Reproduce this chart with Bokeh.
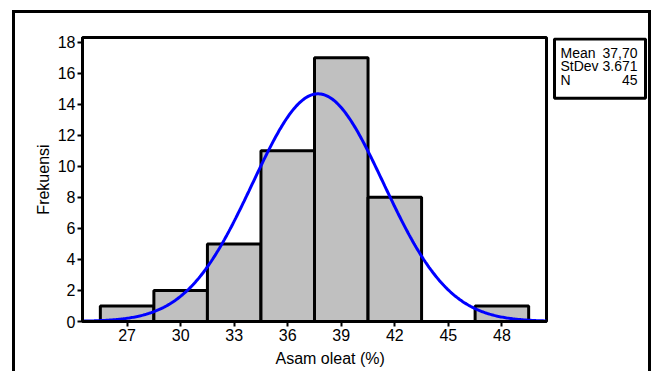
import numpy as np
from bokeh.plotting import figure
from bokeh.layouts import row
from bokeh.models import Range1d, FixedTicker, Title
from bokeh.core.properties import value
from bokeh.embed import file_html
from bokeh.resources import INLINE

# ---- data ----
bin_centers = [27, 30, 33, 36, 39, 42, 45, 48]
frequencies = [1, 2, 5, 11, 17, 8, 0, 1]
bin_width = 3
mean_val = 37.70
stdev_val = 3.671
n_val = 45
x_ticks = [27, 30, 33, 36, 39, 42, 45, 48]
y_ticks = [0, 2, 4, 6, 8, 10, 12, 14, 16, 18]
stat_names = ["Mean", "StDev", "N"]
stat_values = ["37,70", "3.671", "45"]
x_title = "Asam oleat  (%)"
y_title = "Frekuensi"

FONT = "Liberation Sans"

# ---- geometry (page pixels) ----
H = 371
W_MAIN = 550
W_STATS = 104
FRAME_L, FRAME_R, FRAME_T, FRAME_B = 82, 546, 37, 322
X0, X1 = 24.5, 50.5
Y0, Y1 = 0.0, 18.3

p = figure(width=W_MAIN, height=H, output_backend="svg", toolbar_location=None,
           x_range=Range1d(X0, X1), y_range=Range1d(Y0, Y1),
           min_border_left=FRAME_L, min_border_right=W_MAIN - FRAME_R,
           min_border_top=FRAME_T, min_border_bottom=H - FRAME_B)
p.background_fill_color = "white"
p.border_fill_color = None
p.outline_line_color = "black"
p.outline_line_width = 3
p.xgrid.visible = False
p.ygrid.visible = False

# bars
centers = np.array(bin_centers, dtype=float)
p.quad(left=centers - bin_width / 2, right=centers + bin_width / 2,
       bottom=0, top=frequencies, fill_color="#c0c0c0",
       line_color="black", line_width=3)

# fitted normal curve
xs = np.linspace(X0, X1, 400)
ys = n_val * bin_width / (stdev_val * np.sqrt(2 * np.pi)) * np.exp(-0.5 * ((xs - mean_val) / stdev_val) ** 2)
p.line(xs, ys, line_color="#0000ff", line_width=3)

# axes
for ax in (p.xaxis[0], p.yaxis[0]):
    ax.axis_line_color = "black"
    ax.axis_line_width = 3
    ax.major_tick_line_color = "black"
    ax.major_tick_line_width = 2
    ax.major_tick_in = 0
    ax.major_tick_out = 5
    ax.minor_tick_line_color = None
    ax.major_label_text_font = FONT
    ax.major_label_text_font_size = "16px"
    ax.major_label_text_color = "black"
    ax.major_label_standoff = 2

p.xaxis.ticker = FixedTicker(ticks=x_ticks)
p.yaxis.ticker = FixedTicker(ticks=y_ticks)
p.yaxis.axis_label = y_title
p.yaxis.axis_label_text_font = FONT
p.yaxis.axis_label_text_font_size = "16px"
p.yaxis.axis_label_text_font_style = "normal"
p.yaxis.axis_label_text_color = "black"
p.yaxis.axis_label_standoff = 3

p.add_layout(Title(text=x_title, align="left", offset=193, text_font=FONT,
                   text_font_size="16px", text_font_style="normal",
                   text_color="black", standoff=9), "below")

# ---- stats box: a small companion figure whose frame is in page pixels ----
S_L, S_R = W_MAIN + 1, W_MAIN + W_STATS - 1
s = figure(width=W_STATS, height=H, output_backend="svg", toolbar_location=None,
           x_range=Range1d(S_L, S_R), y_range=Range1d(FRAME_B, FRAME_T),
           x_axis_type=None, y_axis_type=None,
           min_border_left=1, min_border_right=1,
           min_border_top=FRAME_T, min_border_bottom=H - FRAME_B)
s.background_fill_color = None
s.border_fill_color = None
s.outline_line_color = None
s.xgrid.visible = False
s.ygrid.visible = False

s.quad(left=[554], right=[645], top=[38.5], bottom=[98], fill_color="white",
       line_color="black", line_width=3)
row_y = [52.5, 66, 79.5]
s.text(x=[560] * 3, y=row_y, text=stat_names, text_font=value(FONT),
       text_font_size=value("14px"), text_align=value("left"),
       text_baseline=value("middle"), text_color=value("black"))
s.text(x=[637] * 3, y=row_y, text=stat_values, text_font=value(FONT),
       text_font_size=value("14px"), text_align=value("right"),
       text_baseline=value("middle"), text_color=value("black"))

# outer frame drawn as CSS background lines behind the transparent borders
bar = "linear-gradient(#000,#000)"
outer = (f"{bar} 12px 10px / 3px 600px no-repeat, "
         f"{bar} 12px 10px / 639px 3px no-repeat, "
         f"{bar} 648px 10px / 3px 600px no-repeat, white")
layout = row(p, s, spacing=0, styles={"background": outer})

open("out.html", "w").write(file_html(layout, INLINE))
